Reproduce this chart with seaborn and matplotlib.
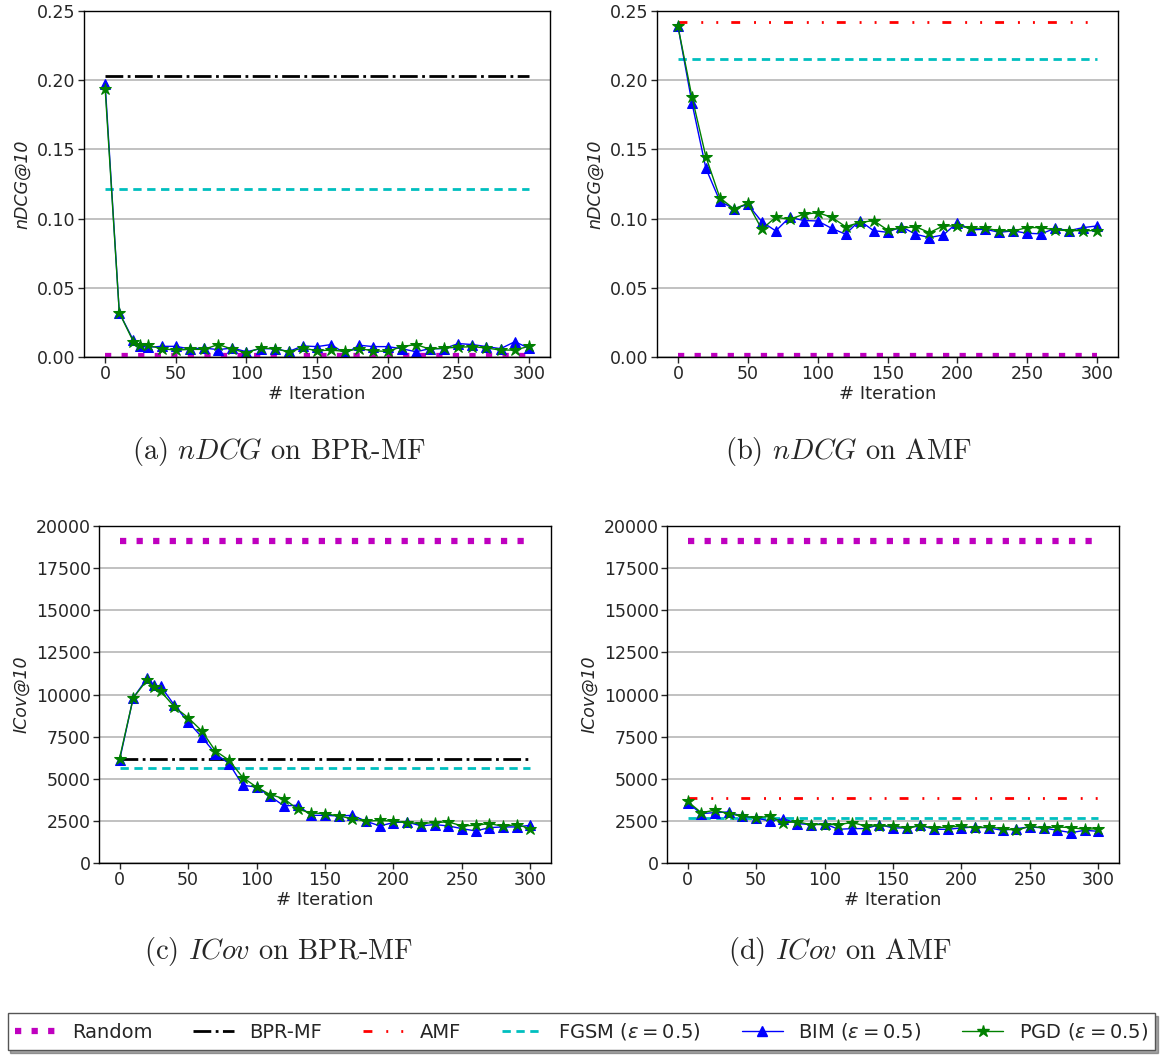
import matplotlib
matplotlib.use("Agg")
import matplotlib.pyplot as plt
from matplotlib.lines import Line2D
from matplotlib.font_manager import FontProperties
import seaborn as sns

# iterations (BPR-MF runs have an extra point at 25)
iters_bpr = [0, 10, 20, 25, 30, 40, 50, 60, 70, 80, 90, 100, 110, 120, 130, 140, 150,
             160, 170, 180, 190, 200, 210, 220, 230, 240, 250, 260, 270, 280, 290, 300]
iters_amf = [0, 10, 20, 30, 40, 50, 60, 70, 80, 90, 100, 110, 120, 130, 140, 150,
             160, 170, 180, 190, 200, 210, 220, 230, 240, 250, 260, 270, 280, 290, 300]

# nDCG@10 on BPR-MF
ndcg_bpr_bim = [0.197, 0.032, 0.012, 0.008, 0.007, 0.0077, 0.0077, 0.0058, 0.0065, 0.0053,
                0.0065, 0.0038, 0.006, 0.006, 0.004, 0.008, 0.0075, 0.009, 0.0025, 0.0085,
                0.0075, 0.0075, 0.006, 0.0038, 0.006, 0.006, 0.0097, 0.009, 0.0075, 0.006,
                0.011, 0.0065]
ndcg_bpr_pgd = [0.1935, 0.032, 0.011, 0.009, 0.0085, 0.006, 0.005, 0.0055, 0.0055, 0.009,
                0.0057, 0.003, 0.0065, 0.006, 0.0038, 0.0065, 0.0045, 0.005, 0.004, 0.006,
                0.0045, 0.004, 0.0075, 0.009, 0.0057, 0.0065, 0.007, 0.0075, 0.0065, 0.005,
                0.005, 0.0077]
ndcg_bpr_base = {"Random": 0.0008, "BPR-MF": 0.203, "FGSM": 0.1215}

# nDCG@10 on AMF
ndcg_amf_bim = [0.239, 0.1837, 0.1363, 0.1127, 0.107, 0.1103, 0.0978, 0.0911, 0.101, 0.0986,
                0.0983, 0.093, 0.0887, 0.0986, 0.0913, 0.0901, 0.0942, 0.0887, 0.0863, 0.0882,
                0.0971, 0.0918, 0.0923, 0.0901, 0.0911, 0.0894, 0.089, 0.093, 0.0913, 0.0935,
                0.0947]
ndcg_amf_pgd = [0.239, 0.188, 0.1447, 0.1151, 0.107, 0.111, 0.0923, 0.101, 0.0995, 0.1031,
                0.1043, 0.101, 0.0942, 0.0971, 0.0986, 0.0918, 0.093, 0.0942, 0.0899, 0.0947,
                0.0947, 0.093, 0.093, 0.0913, 0.0911, 0.0935, 0.0935, 0.0918, 0.0913, 0.0913,
                0.0913]
ndcg_amf_base = {"Random": 0.0008, "AMF": 0.242, "FGSM": 0.215}

# ICov@10 on BPR-MF
icov_bpr_bim = [6100, 9800, 10950, 10550, 10500, 9370, 8380, 7480, 6490, 5900, 4610, 4510,
                3960, 3390, 3430, 2830, 2830, 2790, 2830, 2480, 2200, 2400, 2440, 2200, 2280,
                2200, 2040, 1900, 2100, 2140, 2140, 2240]
icov_bpr_pgd = [6200, 9800, 10850, 10420, 10200, 9270, 8630, 7840, 6650, 6100, 5070, 4510,
                4060, 3820, 3190, 2970, 2930, 2790, 2630, 2480, 2530, 2480, 2400, 2340, 2400,
                2440, 2200, 2240, 2340, 2180, 2280, 2040]
icov_bpr_base = {"Random": 19100, "BPR-MF": 6200, "FGSM": 5650}

# ICov@10 on AMF
icov_amf_bim = [3580, 2930, 2990, 3030, 2770, 2690, 2480, 2630, 2340, 2280, 2340, 2000, 2040,
                2040, 2280, 2080, 2080, 2240, 2000, 2000, 2080, 2140, 2080, 1940, 2040, 2140,
                2080, 1940, 1800, 1940, 1880]
icov_amf_pgd = [3660, 2990, 3130, 2930, 2770, 2690, 2770, 2400, 2440, 2280, 2280, 2280, 2400,
                2200, 2200, 2200, 2080, 2200, 2080, 2140, 2180, 2080, 2140, 2040, 1940, 2180,
                2080, 2140, 2100, 2000, 2040]
icov_amf_base = {"Random": 19100, "AMF": 3850, "FGSM": 2700}

sns.set_style("white")
plt.rcParams["font.family"] = ["DejaVu Sans"]
plt.rcParams["mathtext.fontset"] = "dejavusans"

styles = {
    "Random": dict(color="m", linestyle=":", linewidth=4.5),
    "BPR-MF": dict(color="k", linestyle="-.", linewidth=2),
    "AMF": dict(color="r", linestyle=(0, (3.2, 5, 0.7, 4.7, 0.7, 4.7)), linewidth=2),
    "FGSM": dict(color="c", linestyle=(0, (3, 2)), linewidth=2),
    "BIM": dict(color="b", linestyle="-", linewidth=1, marker="^", markersize=7.5),
    "PGD": dict(color="g", linestyle="-", linewidth=1, marker="*", markersize=9),
}
labels = {
    "Random": "Random", "BPR-MF": "BPR-MF", "AMF": "AMF",
    "FGSM": r"FGSM ($\varepsilon = 0.5$)",
    "BIM": r"BIM ($\varepsilon = 0.5$)",
    "PGD": r"PGD ($\varepsilon = 0.5$)",
}

fig = plt.figure(figsize=(11.63, 10.55), dpi=100)
W, H = 1163, 1055


def make_ax(l, r, t, b):
    return fig.add_axes([l / W, 1 - b / H, (r - l) / W, (b - t) / H])


panels = [
    (make_ax(84, 550, 11, 357), iters_bpr, ndcg_bpr_bim, ndcg_bpr_pgd, ndcg_bpr_base, "nDCG@10"),
    (make_ax(657, 1118, 11, 357), iters_amf, ndcg_amf_bim, ndcg_amf_pgd, ndcg_amf_base, "nDCG@10"),
    (make_ax(99, 551, 526, 863), iters_bpr, icov_bpr_bim, icov_bpr_pgd, icov_bpr_base, "ICov@10"),
    (make_ax(667, 1119, 526, 863), iters_amf, icov_amf_bim, icov_amf_pgd, icov_amf_base, "ICov@10"),
]

for ax, its, bim, pgd, base, ylab in panels:
    ends = [its[0], its[-1]]
    for name, val in base.items():
        sns.lineplot(x=ends, y=[val, val], ax=ax, **styles[name])
    sns.lineplot(x=its, y=bim, ax=ax, markeredgecolor="b", **styles["BIM"])
    sns.lineplot(x=its, y=pgd, ax=ax, markeredgecolor="g", **styles["PGD"])
    ax.set_xlim(-15, 315)
    ax.set_xticks([0, 50, 100, 150, 200, 250, 300])
    ax.grid(axis="y", color="#b0b0b0", linewidth=1.1)
    ax.set_axisbelow(True)
    ax.set_xlabel("# Iteration", fontsize=13, labelpad=1)
    ax.set_ylabel(ylab, fontsize=12.5, fontstyle="italic")
    ax.tick_params(axis="both", labelsize=12.5, length=4, width=1, direction="out",
                   bottom=True, left=True, pad=2)
    for sp in ax.spines.values():
        sp.set_color("black")
        sp.set_linewidth(1)

for ax, _, _, _, _, ylab in panels[:2]:
    ax.set_ylim(0, 0.25)
    ax.set_yticks([0, 0.05, 0.10, 0.15, 0.20, 0.25])
    ax.set_yticklabels(["0.00", "0.05", "0.10", "0.15", "0.20", "0.25"])
for ax, _, _, _, _, ylab in panels[2:]:
    ax.set_ylim(0, 20000)
    ax.set_yticks([0, 2500, 5000, 7500, 10000, 12500, 15000, 17500, 20000])

# captions (LaTeX-like, Computer Modern)
cap_font = FontProperties(family="cmr10", size=20.5, math_fontfamily="cm")
cap_kw = dict(ha="center", va="center", fontproperties=cap_font)
fig.text(279 / W, 1 - 452 / H, r"(a) $nDCG$ on BPR-MF", **cap_kw)
fig.text(848 / W, 1 - 452 / H, r"(b) $nDCG$ on AMF", **cap_kw)
fig.text(279 / W, 1 - 952 / H, r"(c) $ICov$ on BPR-MF", **cap_kw)
fig.text(840 / W, 1 - 952 / H, r"(d) $ICov$ on AMF", **cap_kw)

handles = [Line2D([], [], **styles[k]) for k in styles]
leg_font = FontProperties(family=["DejaVu Sans"], size=14, math_fontfamily="dejavusans")
leg = fig.legend(handles, [labels[k] for k in styles], loc="lower center",
                 bbox_to_anchor=(0.5, 5 / H), borderaxespad=0, ncol=6, shadow=True,
                 fancybox=False, columnspacing=2.1, handlelength=2.1, handletextpad=0.8,
                 borderpad=0.4, prop=leg_font)
leg.get_frame().set_edgecolor("#555555")

fig.savefig("out.png", dpi=100)
